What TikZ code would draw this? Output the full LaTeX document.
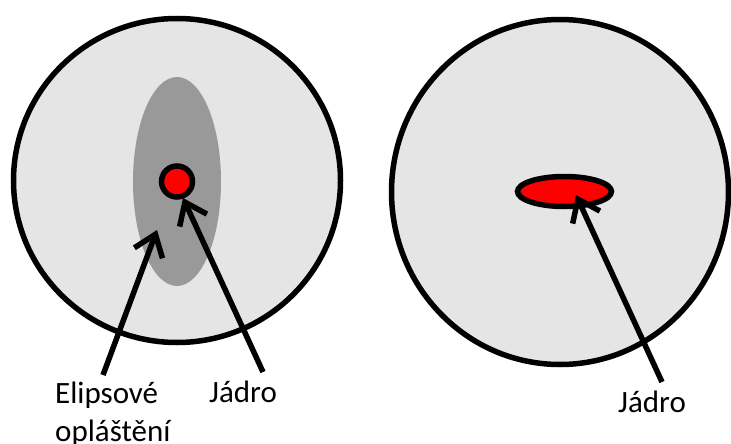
\documentclass[tikz,border=0pt]{standalone}
\usepackage{fontspec}
\setmainfont{Carlito}
\usetikzlibrary{shapes.geometric,arrows.meta}
\definecolor{cellgray}{gray}{0.9}
\definecolor{shellgray}{gray}{0.6}
\tikzset{
  cell/.style={ellipse,draw,line width=5.5pt,fill=cellgray,inner sep=0pt},
  core/.style={ellipse,draw,line width=5.5pt,fill=red,inner sep=0pt},
  pointer/.style={line width=5.5pt,-{Straight Barb[length=20pt,width=30pt]}},
  caption/.style={font=\fontsize{31}{38}\selectfont,inner sep=0pt,align=left}
}

\begin{document}
\begin{tikzpicture}[x=1pt,y=-1pt]
\useasboundingbox (0,0) rectangle (731,444);

\node[cell,minimum width=327pt,minimum height=324pt] (cellL) at (177,180.5) {};
\node[ellipse,fill=shellgray,minimum width=88pt,minimum height=209pt,inner sep=0pt] (shell) at (177,181.5) {};
\node[core,minimum size=31pt] (coreL) at (177,181.5) {};

\node[cell,minimum width=337pt,minimum height=345pt] (cellR) at (560,192) {};
\node[core,minimum width=94pt,minimum height=30pt] (coreR) at (564.5,191.5) {};

\node[caption,anchor=base west] (shellLabel) at (55,441) {Elipsové\\opláštění};
\node[caption,anchor=base west] (coreLabelL) at (209,402) {Jádro};
\node[caption,anchor=base west] (coreLabelR) at (618,412) {Jádro};

\coordinate (shellTail) at (103,375);
\coordinate (shellTip) at (157,230);
\coordinate (coreTailL) at (263,372);
\coordinate (coreTipL) at (183,198);
\coordinate (coreTailR) at (662,382);
\coordinate (coreTipR) at (576,195);

\draw[pointer] (shellTail) -- (shellTip);
\draw[pointer] (coreTailL) -- (coreTipL);
\draw[pointer] (coreTailR) -- (coreTipR);
\end{tikzpicture}
\end{document}
